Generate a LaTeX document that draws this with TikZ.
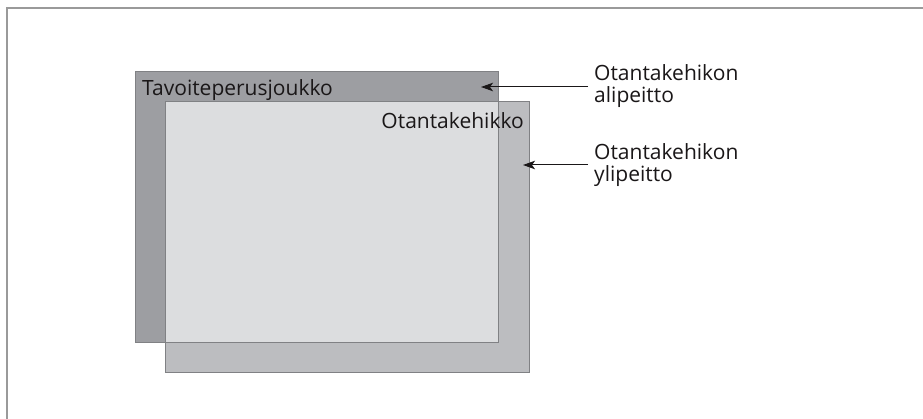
\documentclass[tikz,border=0pt]{standalone}
\usepackage{fontspec}
\setmainfont{Open Sans}
\usetikzlibrary{arrows.meta}
\definecolor{darkbox}{HTML}{9D9EA2}
\definecolor{midbox}{HTML}{BCBDC0}
\definecolor{lightbox}{HTML}{DCDDDF}
\definecolor{edgec}{HTML}{808184}
\definecolor{ink}{HTML}{1A1718}
\definecolor{framec}{HTML}{9A9A9A}
\begin{document}
\begin{tikzpicture}[x=1pt,y=-1pt,
  lbl/.style={font=\fontsize{21}{21.5}\selectfont, text=ink, inner sep=0pt},
  pointer/.style={-{Stealth[length=12pt,width=8.5pt,inset=3pt]}, draw=ink, line width=1pt}]
\useasboundingbox (0,0) rectangle (923,419);
\fill[white] (0,0) rectangle (923,419);
\draw[framec, line width=1.5pt] (7,421) -- (7,8) -- (925,8);
% target population
\fill[darkbox] (135,72) rectangle (498,342);
\fill[midbox] (165,102) rectangle (529,372);
\fill[lightbox] (165,102) rectangle (498,342);
\draw[edgec, line width=1pt] (135,72) rectangle (498,342);
\draw[edgec, line width=1pt] (165,102) rectangle (529,372);
% labels
\node[lbl, anchor=base west] (tavoite) at (142,95.5) {Tavoiteperusjoukko};
\node[lbl, anchor=base east] (kehikko) at (524,129) {Otantakehikko};
\node[lbl, anchor=west, align=left] (ali) at (594,86) {Otantakehikon\\alipeitto};
\node[lbl, anchor=west, align=left] (yli) at (594,165) {Otantakehikon\\ylipeitto};
\coordinate (aliTip) at (481,87);
\coordinate (yliTip) at (523,165);
\draw[pointer] ([xshift=-6pt]aliTip -| ali.west) -- (aliTip);
\draw[pointer] ([xshift=-6pt]yliTip -| yli.west) -- (yliTip);
\end{tikzpicture}
\end{document}
